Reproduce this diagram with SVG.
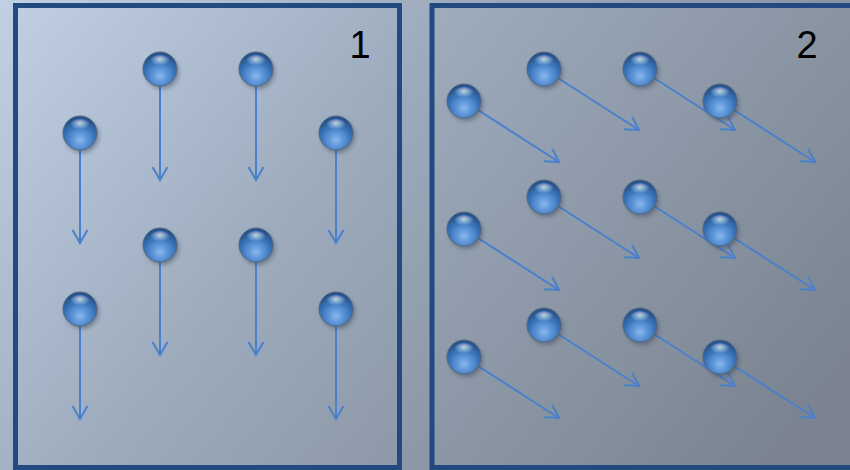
<svg xmlns="http://www.w3.org/2000/svg" width="850" height="470" viewBox="0 0 850 470">
  <defs>
    <linearGradient id="bg" x1="0" y1="0" x2="700" y2="560" gradientUnits="userSpaceOnUse">
      <stop offset="0" stop-color="#c1d0e4"/>
      <stop offset="0.4" stop-color="#9dabbd"/>
      <stop offset="1" stop-color="#7a838f"/>
    </linearGradient>
    <radialGradient id="ballBody" cx="50%" cy="70%" r="62%">
      <stop offset="0" stop-color="#86b8ec"/>
      <stop offset="0.55" stop-color="#4682ca"/>
      <stop offset="1" stop-color="#26548e"/>
    </radialGradient>
    <radialGradient id="ballShine" cx="50%" cy="35%" r="50%">
      <stop offset="0" stop-color="#ffffff" stop-opacity="0.7"/>
      <stop offset="1" stop-color="#ffffff" stop-opacity="0"/>
    </radialGradient>
    <filter id="soft" x="-50%" y="-50%" width="200%" height="200%">
      <feGaussianBlur stdDeviation="2"/>
    </filter>
    <marker id="head" viewBox="0 0 16 18" refX="14" refY="9" markerWidth="16" markerHeight="18" markerUnits="userSpaceOnUse" orient="auto">
      <path d="M1,1.5 L14,9 L1,16.5" fill="none" stroke="#4a80cc" stroke-width="2"/>
    </marker>
    <g id="ball">
      <circle cx="2" cy="3" r="17" fill="#2b3646" opacity="0.4" filter="url(#soft)"/>
      <circle r="17" fill="url(#ballBody)" stroke="#56677d" stroke-width="1"/>
      <ellipse cx="0" cy="-8" rx="10" ry="6" fill="url(#ballShine)"/>
    </g>
  </defs>
  <style>
    .panel { fill: none; stroke: #234a80; stroke-width: 5; }
    .flow { stroke: #4a80cc; stroke-width: 2; fill: none; marker-end: url(#head); }
    .num { font-family: "Liberation Sans", Arial, sans-serif; font-size: 38px; fill: #000; text-anchor: middle; }
  </style>

  <rect width="850" height="470" fill="url(#bg)"/>

  <!-- panel frames -->
  <g id="panel-1">
    <rect class="panel" x="15.5" y="5.5" width="384" height="462"/>
    <text class="num" x="360" y="58">1</text>
  </g>
  <g id="panel-2">
    <rect class="panel" x="432" y="5.5" width="424" height="462"/>
    <text class="num" x="807" y="58">2</text>
  </g>

  <!-- motion arrows -->
  <g id="connectors">
    <!-- panel 1: straight down -->
    <line class="flow" x1="80" y1="133" x2="80" y2="243"/>
    <line class="flow" x1="160" y1="69" x2="160" y2="180"/>
    <line class="flow" x1="256" y1="69" x2="256" y2="180"/>
    <line class="flow" x1="336" y1="133" x2="336" y2="243"/>
    <line class="flow" x1="160" y1="245" x2="160" y2="355"/>
    <line class="flow" x1="256" y1="245" x2="256" y2="355"/>
    <line class="flow" x1="80" y1="309" x2="80" y2="419"/>
    <line class="flow" x1="336" y1="309" x2="336" y2="419"/>
    <!-- panel 2: diagonal -->
    <line class="flow" x1="464" y1="101" x2="559" y2="162"/>
    <line class="flow" x1="544" y1="69" x2="639" y2="130"/>
    <line class="flow" x1="640" y1="69" x2="735" y2="130"/>
    <line class="flow" x1="720" y1="101" x2="815" y2="162"/>
    <line class="flow" x1="464" y1="229" x2="559" y2="290"/>
    <line class="flow" x1="544" y1="197" x2="639" y2="258"/>
    <line class="flow" x1="640" y1="197" x2="735" y2="258"/>
    <line class="flow" x1="720" y1="229" x2="815" y2="290"/>
    <line class="flow" x1="464" y1="357" x2="559" y2="418"/>
    <line class="flow" x1="544" y1="325" x2="639" y2="386"/>
    <line class="flow" x1="640" y1="325" x2="735" y2="386"/>
    <line class="flow" x1="720" y1="357" x2="815" y2="418"/>
  </g>

  <!-- particles -->
  <g id="ball-1a"><use href="#ball" x="80" y="133"/></g>
  <g id="ball-1b"><use href="#ball" x="160" y="69"/></g>
  <g id="ball-1c"><use href="#ball" x="256" y="69"/></g>
  <g id="ball-1d"><use href="#ball" x="336" y="133"/></g>
  <g id="ball-1e"><use href="#ball" x="160" y="245"/></g>
  <g id="ball-1f"><use href="#ball" x="256" y="245"/></g>
  <g id="ball-1g"><use href="#ball" x="80" y="309"/></g>
  <g id="ball-1h"><use href="#ball" x="336" y="309"/></g>

  <g id="ball-2a"><use href="#ball" x="464" y="101"/></g>
  <g id="ball-2b"><use href="#ball" x="544" y="69"/></g>
  <g id="ball-2c"><use href="#ball" x="640" y="69"/></g>
  <g id="ball-2d"><use href="#ball" x="720" y="101"/></g>
  <g id="ball-2e"><use href="#ball" x="464" y="229"/></g>
  <g id="ball-2f"><use href="#ball" x="544" y="197"/></g>
  <g id="ball-2g"><use href="#ball" x="640" y="197"/></g>
  <g id="ball-2h"><use href="#ball" x="720" y="229"/></g>
  <g id="ball-2i"><use href="#ball" x="464" y="357"/></g>
  <g id="ball-2j"><use href="#ball" x="544" y="325"/></g>
  <g id="ball-2k"><use href="#ball" x="640" y="325"/></g>
  <g id="ball-2l"><use href="#ball" x="720" y="357"/></g>
</svg>
